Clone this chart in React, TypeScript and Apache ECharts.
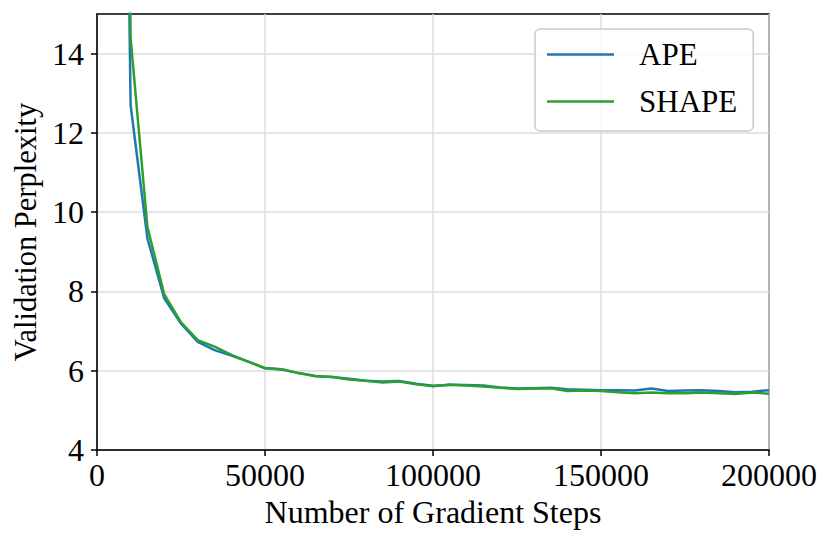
import React, { useEffect, useRef } from "react";
import * as echarts from "echarts";

const steps: number[] = [
  5000, 10000, 15000, 20000, 25000, 30000, 35000, 40000, 45000, 50000,
  55000, 60000, 65000, 70000, 75000, 80000, 85000, 90000, 95000, 100000,
  105000, 110000, 115000, 120000, 125000, 130000, 135000, 140000, 145000, 150000,
  155000, 160000, 165000, 170000, 175000, 180000, 185000, 190000, 195000, 200000,
];

const apeValues: number[] = [
  45, 12.7, 9.34, 7.83, 7.19, 6.73, 6.52, 6.38, 6.23, 6.06,
  6.03, 5.94, 5.87, 5.84, 5.8, 5.75, 5.73, 5.74, 5.67, 5.62,
  5.64, 5.64, 5.63, 5.58, 5.55, 5.56, 5.57, 5.53, 5.52, 5.51,
  5.51, 5.5, 5.55, 5.49, 5.5, 5.51, 5.49, 5.46, 5.47, 5.51,
];

const shapeValues: number[] = [
  50, 14.4, 9.63, 7.93, 7.22, 6.77, 6.61, 6.4, 6.23, 6.07,
  6.04, 5.94, 5.86, 5.84, 5.78, 5.75, 5.7, 5.73, 5.66, 5.61,
  5.65, 5.63, 5.6, 5.57, 5.54, 5.55, 5.56, 5.49, 5.5, 5.49,
  5.46, 5.43, 5.45, 5.43, 5.43, 5.45, 5.43, 5.41, 5.45, 5.42,
];

const yTicks: number[] = [4, 6, 8, 10, 12, 14];
const seriesNames: string[] = ["APE", "SHAPE"];

const FONT = '"Liberation Serif", "Times New Roman", serif';

export default function App() {
  const ref = useRef<HTMLDivElement>(null);
  useEffect(() => {
    if (!ref.current) return;
    const chart = echarts.init(ref.current, null, { renderer: "svg" });
    const toPairs = (vals: number[]) => steps.map((s, i) => [s, vals[i]]);
    chart.setOption({
      animation: false,
      backgroundColor: "#ffffff",
      textStyle: { fontFamily: FONT },
      grid: {
        left: 97,
        top: 14,
        right: 62,
        bottom: 94,
        show: true,
        borderColor: "#000000",
        borderWidth: 1.5,
        backgroundColor: "transparent",
        containLabel: false,
      },
      legend: {
        left: 535,
        top: 29,
        orient: "vertical",
        icon: "rect",
        itemWidth: 67,
        itemHeight: 2.5,
        itemGap: 16,
        padding: [10, 16, 14, 12],
        borderColor: "#cccccc",
        borderWidth: 1.5,
        borderRadius: 5,
        backgroundColor: "rgba(255,255,255,0.8)",
        textStyle: {
          fontFamily: FONT,
          fontSize: 31,
          color: "#000000",
          lineHeight: 30,
          padding: [0, 0, 0, 20],
        },
        data: seriesNames,
      },
      xAxis: {
        type: "value",
        min: 0,
        max: 200000,
        interval: 50000,
        name: "Number of Gradient Steps",
        nameLocation: "middle",
        nameGap: 45,
        nameTextStyle: { fontFamily: FONT, fontSize: 32, color: "#000000" },
        axisLine: { show: true, lineStyle: { color: "#000000", width: 1.5 } },
        axisTick: { show: true, inside: false, length: 6, lineStyle: { color: "#000000", width: 1.5 } },
        axisLabel: {
          fontFamily: FONT,
          fontSize: 32,
          color: "#000000",
          margin: 9,
          formatter: (v: number) => String(v),
        },
        splitLine: { show: true, lineStyle: { color: "#dcdcdc", width: 1.5 } },
      },
      yAxis: {
        type: "value",
        min: 4,
        max: 15,
        interval: 2,
        name: "Validation Perplexity",
        nameLocation: "middle",
        nameGap: 56,
        nameTextStyle: { fontFamily: FONT, fontSize: 30.5, color: "#000000" },
        axisLine: { show: true, lineStyle: { color: "#000000", width: 1.5 } },
        axisTick: {
          show: true,
          inside: false,
          length: 6,
          lineStyle: { color: "#000000", width: 1.5 },
          customValues: yTicks,
        },
        axisLabel: {
          fontFamily: FONT,
          fontSize: 32,
          color: "#000000",
          margin: 13,
          customValues: yTicks,
        },
        splitLine: { show: true, lineStyle: { color: "#dcdcdc", width: 1.5 } },
      },
      series: [
        {
          name: seriesNames[0],
          type: "line",
          data: toPairs(apeValues),
          symbol: "none",
          showSymbol: false,
          clip: true,
          lineStyle: { color: "#1f77b4", width: 2.5 },
          itemStyle: { color: "#1f77b4" },
          z: 2,
        },
        {
          name: seriesNames[1],
          type: "line",
          data: toPairs(shapeValues),
          symbol: "none",
          showSymbol: false,
          clip: true,
          lineStyle: { color: "#2ca02c", width: 2.5 },
          itemStyle: { color: "#2ca02c" },
          z: 3,
        },
      ],
    });
    return () => chart.dispose();
  }, []);
  return (
    <div
      ref={ref}
      style={{ position: "absolute", left: 0, top: 0, width: 831, height: 544 }}
    />
  );
}
